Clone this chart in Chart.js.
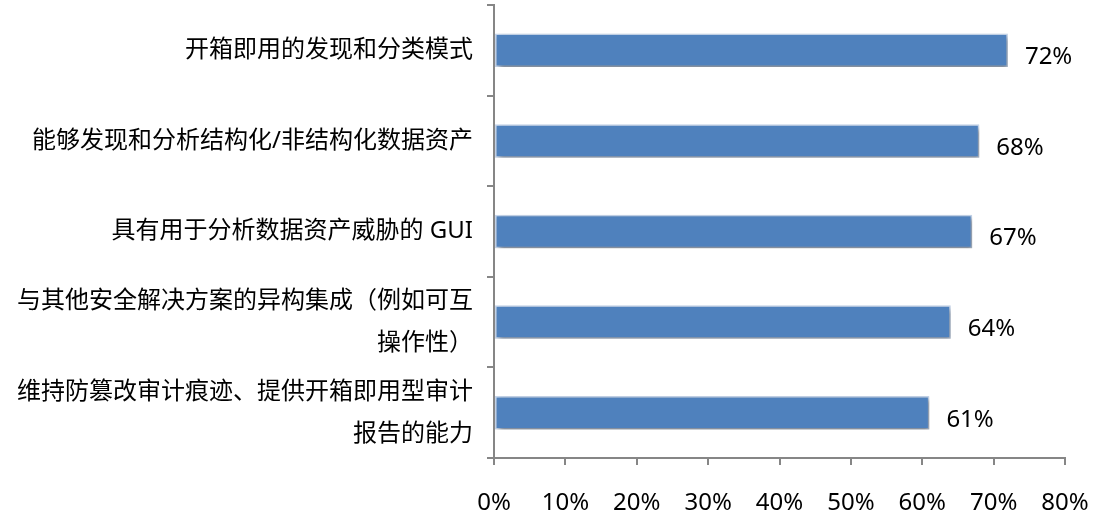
<!DOCTYPE html>
<html>
<head>
<meta charset="utf-8">
<script src="https://cdn.jsdelivr.net/npm/chart.js@4"></script>
<style>
    html, body { margin: 0; padding: 0; background: #fff; }
    #wrap { width: 1093px; height: 518px; }
</style>
</head>
<body>
<div id="wrap"><canvas id="surveyChart"></canvas></div>
<script>
const categories = [
    "开箱即用的发现和分类模式",
    "能够发现和分析结构化/非结构化数据资产",
    "具有用于分析数据资产威胁的 GUI",
    ["与其他安全解决方案的异构集成（例如可互", "操作性）"],
    ["维持防篡改审计痕迹、提供开箱即用型审计", "报告的能力"]
];
const percentValues = [72, 68, 67, 64, 61];
const xTicks = [0, 10, 20, 30, 40, 50, 60, 70, 80];

const FONT = "'Noto Sans', 'Noto Sans CJK SC', sans-serif";

// bar shadow + value labels
const barDecor = {
    id: "barDecor",
    beforeDatasetsDraw(chart) {
        const ctx = chart.ctx;
        ctx.save();
        ctx.shadowColor = "rgba(0,0,0,0.4)";
        ctx.shadowBlur = 5;
        ctx.shadowOffsetX = 2;
        ctx.shadowOffsetY = 3;
    },
    afterDatasetsDraw(chart) {
        const ctx = chart.ctx;
        ctx.restore();
        const meta = chart.getDatasetMeta(0);
        ctx.save();
        ctx.font = "24px " + FONT;
        ctx.fillStyle = "#000";
        ctx.textAlign = "left";
        ctx.textBaseline = "middle";
        meta.data.forEach((bar, i) => {
            ctx.fillText(percentValues[i] + "%", bar.x + 17, bar.y + 7);
        });
        ctx.restore();
    }
};

const ctx = document.getElementById("surveyChart").getContext("2d");
new Chart(ctx, {
    type: "bar",
    data: {
        labels: categories,
        datasets: [{
            data: percentValues,
            backgroundColor: "#4F81BD",
            borderColor: "#C6D6EC",
            borderWidth: 1.5,
            borderSkipped: false,
            categoryPercentage: 1,
            barPercentage: 0.37
        }]
    },
    options: {
        indexAxis: "y",
        responsive: true,
        maintainAspectRatio: false,
        animation: false,
        layout: { padding: { top: 5, right: 28, left: 0, bottom: 0 } },
        plugins: {
            legend: { display: false },
            tooltip: { enabled: false }
        },
        scales: {
            x: {
                min: 0,
                max: 80,
                afterBuildTicks(scale) {
                    scale.ticks = xTicks.map(v => ({ value: v }));
                },
                afterFit(scale) {
                    scale.height = 60;
                    scale.paddingLeft = 0;
                    scale.paddingRight = 0;
                },
                grid: {
                    drawOnChartArea: false,
                    drawTicks: true,
                    tickLength: 7,
                    color: "#868686",
                    lineWidth: 2
                },
                border: { color: "#868686", width: 2 },
                ticks: {
                    callback: v => v + "%",
                    color: "#000",
                    padding: 24,
                    maxRotation: 0,
                    font: { family: FONT, size: 24 }
                }
            },
            y: {
                afterFit(scale) {
                    scale.width = 494;
                    scale.paddingTop = 0;
                    scale.paddingBottom = 0;
                },
                grid: {
                    offset: true,
                    drawOnChartArea: false,
                    drawTicks: true,
                    tickLength: 7,
                    color: "#868686",
                    lineWidth: 2
                },
                border: { color: "#868686", width: 2 },
                ticks: {
                    autoSkip: false,
                    color: "#000",
                    padding: 14,
                    font: { family: FONT, size: 24, lineHeight: 1.75 }
                }
            }
        }
    },
    plugins: [barDecor]
});
</script>
</body>
</html>
